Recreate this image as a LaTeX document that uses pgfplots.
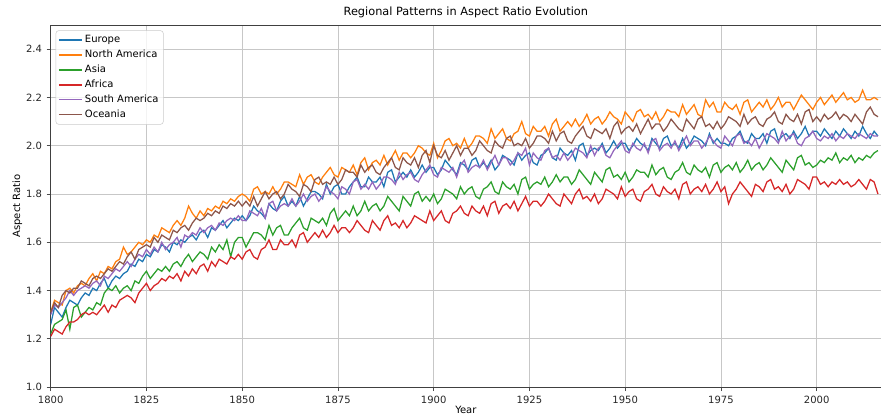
\documentclass[border=0pt]{standalone}
\usepackage{fontspec}
\setmainfont{DejaVu Sans}
\usepackage{pgfplots}
\usepackage{pgfplotstable}
\pgfplotsset{compat=1.18}

\definecolor{cEU}{HTML}{1F77B4}
\definecolor{cNA}{HTML}{FF7F0E}
\definecolor{cAS}{HTML}{2CA02C}
\definecolor{cAF}{HTML}{D62728}
\definecolor{cSA}{HTML}{9467BD}
\definecolor{cOC}{HTML}{8C564B}

% Yearly aspect ratio by region
\pgfplotstableread{
year eu na as af sa oc
1800 1.26 1.31 1.22 1.21 1.30 1.31
1801 1.33 1.36 1.26 1.24 1.34 1.35
1802 1.31 1.35 1.27 1.23 1.33 1.33
1803 1.29 1.34 1.28 1.22 1.35 1.38
1804 1.33 1.40 1.32 1.25 1.37 1.40
1805 1.36 1.41 1.24 1.27 1.40 1.39
1806 1.35 1.39 1.33 1.27 1.38 1.41
1807 1.34 1.42 1.34 1.28 1.40 1.41
1808 1.37 1.43 1.29 1.30 1.41 1.44
1809 1.39 1.42 1.31 1.31 1.42 1.43
1810 1.38 1.45 1.33 1.30 1.41 1.42
1811 1.41 1.47 1.32 1.31 1.43 1.45
1812 1.40 1.44 1.35 1.30 1.44 1.46
1813 1.43 1.48 1.34 1.32 1.42 1.45
1814 1.45 1.47 1.39 1.34 1.46 1.47
1815 1.41 1.50 1.41 1.31 1.45 1.49
1816 1.44 1.49 1.40 1.34 1.47 1.48
1817 1.46 1.52 1.42 1.33 1.49 1.50
1818 1.45 1.53 1.39 1.36 1.48 1.52
1819 1.47 1.58 1.41 1.37 1.50 1.51
1820 1.48 1.55 1.42 1.38 1.52 1.54
1821 1.51 1.56 1.40 1.37 1.50 1.56
1822 1.50 1.58 1.44 1.35 1.53 1.53
1823 1.53 1.60 1.43 1.39 1.55 1.57
1824 1.52 1.59 1.46 1.41 1.54 1.58
1825 1.55 1.61 1.48 1.43 1.57 1.59
1826 1.54 1.60 1.45 1.40 1.55 1.58
1827 1.57 1.63 1.47 1.42 1.58 1.62
1828 1.56 1.62 1.49 1.43 1.56 1.60
1829 1.59 1.66 1.48 1.45 1.60 1.63
1830 1.58 1.65 1.50 1.44 1.57 1.62
1831 1.56 1.64 1.48 1.46 1.59 1.61
1832 1.60 1.67 1.51 1.45 1.60 1.65
1833 1.59 1.69 1.52 1.47 1.62 1.64
1834 1.61 1.67 1.50 1.44 1.58 1.66
1835 1.60 1.70 1.53 1.48 1.63 1.67
1836 1.62 1.75 1.55 1.46 1.62 1.65
1837 1.63 1.72 1.52 1.49 1.64 1.68
1838 1.61 1.70 1.54 1.47 1.63 1.70
1839 1.64 1.73 1.56 1.50 1.66 1.69
1840 1.65 1.71 1.55 1.51 1.64 1.70
1841 1.62 1.74 1.53 1.48 1.66 1.72
1842 1.66 1.73 1.58 1.52 1.67 1.71
1843 1.65 1.75 1.56 1.50 1.65 1.73
1844 1.67 1.74 1.59 1.53 1.68 1.72
1845 1.69 1.77 1.57 1.52 1.67 1.75
1846 1.66 1.76 1.61 1.51 1.69 1.74
1847 1.68 1.78 1.54 1.54 1.70 1.76
1848 1.70 1.77 1.60 1.53 1.69 1.75
1849 1.69 1.79 1.62 1.55 1.71 1.77
1850 1.71 1.80 1.62 1.53 1.69 1.75
1851 1.69 1.79 1.58 1.56 1.69 1.77
1852 1.71 1.77 1.61 1.57 1.73 1.75
1853 1.75 1.82 1.64 1.54 1.72 1.79
1854 1.73 1.83 1.64 1.53 1.71 1.75
1855 1.72 1.80 1.63 1.57 1.74 1.78
1856 1.70 1.81 1.61 1.58 1.70 1.81
1857 1.76 1.80 1.67 1.61 1.76 1.78
1858 1.74 1.83 1.63 1.57 1.77 1.80
1859 1.73 1.80 1.66 1.57 1.73 1.81
1860 1.77 1.82 1.67 1.61 1.75 1.78
1861 1.79 1.85 1.63 1.59 1.76 1.80
1862 1.75 1.85 1.63 1.59 1.75 1.84
1863 1.77 1.84 1.66 1.61 1.78 1.82
1864 1.75 1.83 1.68 1.58 1.75 1.81
1865 1.79 1.88 1.70 1.63 1.77 1.79
1866 1.75 1.84 1.66 1.64 1.80 1.84
1867 1.78 1.87 1.65 1.60 1.77 1.83
1868 1.81 1.88 1.70 1.62 1.79 1.81
1869 1.81 1.85 1.69 1.64 1.80 1.86
1870 1.80 1.84 1.68 1.62 1.77 1.87
1871 1.78 1.87 1.70 1.65 1.79 1.84
1872 1.84 1.89 1.67 1.62 1.83 1.85
1873 1.80 1.91 1.72 1.64 1.81 1.84
1874 1.83 1.88 1.74 1.67 1.80 1.87
1875 1.84 1.87 1.69 1.64 1.78 1.84
1876 1.80 1.91 1.71 1.66 1.83 1.86
1877 1.80 1.90 1.73 1.66 1.82 1.90
1878 1.83 1.89 1.71 1.64 1.80 1.89
1879 1.85 1.92 1.75 1.66 1.85 1.89
1880 1.87 1.88 1.71 1.69 1.86 1.87
1881 1.83 1.93 1.73 1.67 1.82 1.92
1882 1.83 1.95 1.77 1.65 1.84 1.89
1883 1.87 1.90 1.73 1.64 1.82 1.91
1884 1.85 1.93 1.75 1.69 1.85 1.92
1885 1.85 1.94 1.76 1.67 1.82 1.89
1886 1.87 1.92 1.73 1.65 1.84 1.88
1887 1.83 1.96 1.75 1.69 1.87 1.91
1888 1.89 1.92 1.79 1.71 1.87 1.93
1889 1.90 1.95 1.77 1.67 1.86 1.95
1890 1.85 1.98 1.75 1.68 1.84 1.91
1891 1.87 1.94 1.73 1.66 1.89 1.90
1892 1.89 1.97 1.79 1.69 1.86 1.95
1893 1.87 1.97 1.77 1.66 1.88 1.93
1894 1.90 1.95 1.75 1.68 1.89 1.92
1895 1.87 1.97 1.80 1.71 1.86 1.95
1896 1.89 2.00 1.81 1.70 1.85 1.91
1897 1.92 1.99 1.77 1.69 1.88 1.96
1898 1.89 1.97 1.79 1.68 1.90 1.98
1899 1.91 1.96 1.77 1.73 1.92 1.93
1900 1.91 2.01 1.80 1.69 1.88 2.00
1901 1.88 1.95 1.76 1.71 1.87 1.96
1902 1.90 1.98 1.78 1.73 1.91 1.95
1903 1.94 2.02 1.82 1.69 1.90 1.98
1904 1.92 2.03 1.81 1.68 1.89 1.94
1905 1.90 2.00 1.80 1.72 1.91 1.97
1906 1.88 2.01 1.78 1.73 1.87 2.00
1907 1.93 1.99 1.83 1.75 1.92 1.96
1908 1.92 2.03 1.80 1.72 1.94 1.99
1909 1.90 1.99 1.82 1.71 1.89 1.99
1910 1.94 2.01 1.83 1.75 1.91 1.96
1911 1.95 2.04 1.79 1.73 1.92 1.98
1912 1.91 2.04 1.78 1.72 1.91 2.02
1913 1.93 2.03 1.82 1.75 1.94 2.00
1914 1.91 2.01 1.83 1.71 1.90 1.98
1915 1.94 2.07 1.85 1.76 1.93 1.97
1916 1.90 2.03 1.81 1.77 1.96 2.02
1917 1.92 2.05 1.80 1.72 1.92 2.00
1918 1.96 2.07 1.85 1.75 1.95 1.99
1919 1.95 2.03 1.83 1.76 1.95 2.03
1920 1.94 2.02 1.82 1.74 1.92 2.04
1921 1.92 2.05 1.84 1.77 1.94 2.00
1922 1.97 2.06 1.80 1.73 1.97 2.01
1923 1.94 2.10 1.86 1.76 1.96 2.00
1924 1.96 2.05 1.87 1.79 1.99 2.03
1925 1.97 2.04 1.82 1.75 1.92 1.99
1926 1.93 2.08 1.84 1.77 1.97 2.01
1927 1.92 2.06 1.85 1.77 1.95 2.04
1928 1.96 2.06 1.84 1.75 1.94 2.04
1929 1.97 2.08 1.87 1.77 1.98 2.03
1930 1.99 2.04 1.83 1.80 1.99 2.01
1931 1.95 2.09 1.85 1.78 1.95 2.06
1932 1.94 2.11 1.88 1.76 1.96 2.02
1933 1.99 2.06 1.85 1.75 1.94 2.05
1934 1.97 2.08 1.87 1.80 1.97 2.06
1935 1.96 2.10 1.87 1.78 1.94 2.02
1936 1.98 2.08 1.84 1.76 1.96 2.01
1937 1.94 2.11 1.86 1.80 1.99 2.04
1938 2.00 2.08 1.90 1.82 1.98 2.06
1939 2.01 2.10 1.88 1.78 1.97 2.08
1940 1.96 2.13 1.86 1.79 1.95 2.04
1941 1.98 2.09 1.84 1.77 2.00 2.03
1942 1.99 2.11 1.89 1.80 1.96 2.07
1943 1.98 2.12 1.87 1.76 1.99 2.06
1944 2.01 2.09 1.85 1.78 2.00 2.05
1945 1.97 2.11 1.90 1.82 1.96 2.07
1946 1.99 2.14 1.91 1.81 1.95 2.03
1947 2.02 2.12 1.87 1.80 1.98 2.08
1948 1.99 2.11 1.88 1.78 2.00 2.10
1949 2.01 2.09 1.86 1.83 2.02 2.05
1950 2.01 2.14 1.89 1.79 1.98 2.07
1951 1.98 2.12 1.85 1.81 1.97 2.08
1952 2.00 2.10 1.87 1.82 2.01 2.06
1953 2.03 2.14 1.90 1.78 1.99 2.09
1954 2.01 2.15 1.89 1.77 1.98 2.05
1955 2.00 2.12 1.89 1.81 2.01 2.08
1956 1.98 2.13 1.87 1.82 1.97 2.11
1957 2.03 2.11 1.92 1.84 2.02 2.07
1958 2.01 2.14 1.88 1.80 2.03 2.09
1959 1.99 2.10 1.90 1.79 1.98 2.09
1960 2.03 2.12 1.91 1.83 2.00 2.06
1961 2.04 2.15 1.87 1.81 2.01 2.08
1962 2.00 2.14 1.86 1.80 1.99 2.11
1963 2.01 2.14 1.89 1.82 2.02 2.09
1964 1.99 2.12 1.90 1.78 1.98 2.07
1965 2.03 2.17 1.93 1.84 2.01 2.06
1966 1.99 2.13 1.89 1.85 2.04 2.11
1967 2.01 2.15 1.88 1.80 2.00 2.09
1968 2.04 2.17 1.92 1.82 2.02 2.07
1969 2.03 2.13 1.90 1.83 2.02 2.11
1970 2.02 2.12 1.89 1.81 1.99 2.12
1971 2.00 2.19 1.91 1.84 2.01 2.08
1972 2.05 2.16 1.87 1.80 2.04 2.09
1973 2.01 2.18 1.92 1.82 2.02 2.07
1974 2.03 2.14 1.93 1.85 2.00 2.10
1975 2.01 2.14 1.89 1.81 1.99 2.07
1976 2.01 2.18 1.91 1.83 2.04 2.09
1977 2.00 2.16 1.92 1.76 2.02 2.12
1978 2.03 2.15 1.90 1.80 2.00 2.11
1979 2.04 2.17 1.93 1.82 2.04 2.10
1980 2.06 2.13 1.89 1.85 2.05 2.08
1981 2.02 2.18 1.91 1.83 2.01 2.13
1982 2.01 2.19 1.94 1.81 2.02 2.09
1983 2.05 2.14 1.90 1.79 2.00 2.11
1984 2.03 2.16 1.92 1.84 2.03 2.12
1985 2.03 2.18 1.93 1.83 1.99 2.09
1986 2.05 2.16 1.90 1.81 2.02 2.08
1987 2.01 2.19 1.92 1.85 2.05 2.11
1988 2.06 2.15 1.95 1.86 2.04 2.12
1989 2.07 2.17 1.93 1.82 2.03 2.14
1990 2.02 2.20 1.91 1.83 2.01 2.10
1991 2.04 2.16 1.89 1.81 2.06 2.09
1992 2.05 2.18 1.94 1.84 2.02 2.13
1993 2.03 2.18 1.92 1.80 2.04 2.11
1994 2.06 2.15 1.90 1.82 2.05 2.10
1995 2.03 2.18 1.95 1.86 2.01 2.13
1996 2.05 2.21 1.96 1.85 2.00 2.09
1997 2.08 2.19 1.92 1.84 2.03 2.14
1998 2.04 2.17 1.93 1.82 2.04 2.15
1999 2.06 2.15 1.91 1.87 2.06 2.10
2000 2.06 2.18 1.92 1.87 2.03 2.12
2001 2.04 2.20 1.94 1.84 2.02 2.10
2002 2.07 2.17 1.93 1.85 2.04 2.13
2003 2.05 2.19 1.95 1.83 2.03 2.11
2004 2.03 2.21 1.94 1.85 2.05 2.12
2005 2.06 2.18 1.97 1.84 2.02 2.14
2006 2.04 2.20 1.93 1.86 2.04 2.11
2007 2.07 2.22 1.95 1.84 2.03 2.13
2008 2.05 2.19 1.94 1.85 2.05 2.12
2009 2.03 2.20 1.96 1.83 2.04 2.10
2010 2.06 2.18 1.93 1.84 2.03 2.13
2011 2.04 2.19 1.95 1.86 2.05 2.11
2012 2.08 2.23 1.94 1.84 2.04 2.09
2013 2.05 2.19 1.96 1.82 2.03 2.14
2014 2.03 2.19 1.95 1.86 2.05 2.16
2015 2.06 2.20 1.97 1.85 2.04 2.13
2016 2.04 2.19 1.98 1.80 2.04 2.12
}\ratios

\begin{document}
\begin{tikzpicture}
\begin{axis}[
  name=ax,
  scale only axis,
  width=622.5pt, height=271.5pt,
  xmin=1800, xmax=2016.8,
  ymin=1.0, ymax=2.5,
  xtick={1800,1825,...,2000},
  ytick={1.0,1.2,...,2.4},
  /pgf/number format/assume math mode=true,
  xticklabel style={/pgf/number format/set thousands separator={}},
  yticklabel style={/pgf/number format/fixed, /pgf/number format/fixed zerofill, /pgf/number format/precision=1},
  tick label style={font=\fontsize{7.5}{9}\selectfont, text=black!85},
  tick align=outside,
  tick pos=left,
  major tick length=3pt,
  tick style={black!70, line width=0.6pt},
  axis line style={black!75, line width=0.6pt},
  grid=major,
  grid style={black!22, line width=0.6pt},
  title={Regional Patterns in Aspect Ratio Evolution},
  title style={font=\fontsize{8.5}{10}\selectfont, yshift=-4.5pt},
  xlabel={Year},
  ylabel={Aspect Ratio},
  xlabel style={font=\fontsize{7.5}{9}\selectfont, yshift=5pt},
  ylabel style={font=\fontsize{7.5}{9}\selectfont, yshift=-4pt},
  legend style={at={(0.006,0.985)}, anchor=north west,
    draw=black!20, rounded corners=2pt, fill=white, fill opacity=0.8, text opacity=1, draw opacity=1,
    font=\fontsize{7.5}{9}\selectfont, row sep=0pt, inner sep=1.6pt},
  legend cell align=left,
  legend image post style={line width=1.1pt, opacity=1},
  every axis plot/.append style={line width=0.95pt},
]
\addplot[cEU] table[x=year, y=eu] {\ratios};
\addlegendentry{Europe}
\addplot[cNA] table[x=year, y=na] {\ratios};
\addlegendentry{North America}
\addplot[cAS] table[x=year, y=as] {\ratios};
\addlegendentry{Asia}
\addplot[cAF] table[x=year, y=af] {\ratios};
\addlegendentry{Africa}
\addplot[cSA] table[x=year, y=sa] {\ratios};
\addlegendentry{South America}
\addplot[cOC] table[x=year, y=oc] {\ratios};
\addlegendentry{Oceania}
\end{axis}
\pgfresetboundingbox
\path[use as bounding box] ([xshift=-38pt,yshift=-22.7pt]ax.south west) rectangle ([yshift=18.75pt]ax.north east);
\end{tikzpicture}
\end{document}
